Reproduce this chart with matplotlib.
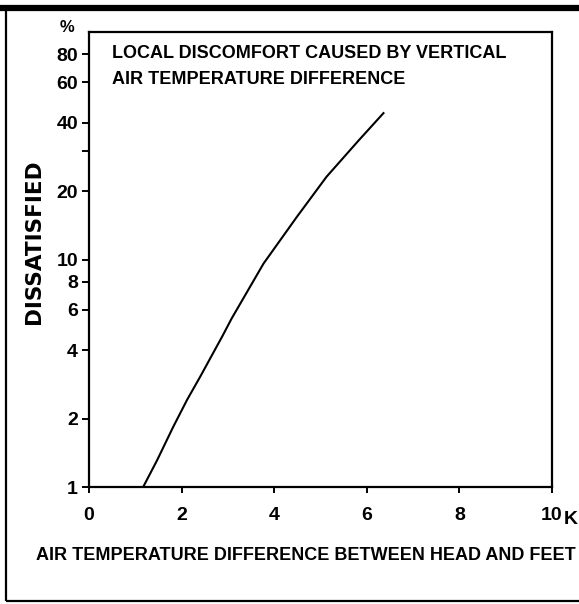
import matplotlib
matplotlib.use("Agg")
import matplotlib.pyplot as plt
from matplotlib.patches import Rectangle
from matplotlib.lines import Line2D

# Fuentes
narrow = ['Liberation Sans', 'DejaVu Sans']
wide = ['DejaVu Sans']

# Curva leida: diferencia de temperatura (K) vs % insatisfechos
delta_t = [1.17, 1.47, 1.82, 2.12, 2.40, 2.88, 3.08, 3.77, 4.49, 5.13, 5.82, 6.36]
dissatisfied = [1.0, 1.31, 1.84, 2.42, 3.05, 4.6, 5.5, 9.6, 15.4, 23.1, 33.3, 44.0]

x_ticks = [0, 2, 4, 6, 8, 10]
y_ticks = [1, 2, 4, 6, 8, 10, 20, 30, 40, 60, 80]
y_labels = ['1', '2', '4', '6', '8', '10', '20', '', '40', '60', '80']

title_lines = ["LOCAL DISCOMFORT CAUSED BY VERTICAL", "AIR TEMPERATURE DIFFERENCE"]

fig = plt.figure(figsize=(5.79, 6.04), dpi=100)
ax = fig.add_axes([89/579, 1 - 487/604, (552 - 89)/579, (487 - 32)/604])

ax.plot(delta_t, dissatisfied, color='black', lw=1.5, solid_joinstyle='round')

ax.set_yscale('log')
ax.set_xlim(0, 10)
ax.set_ylim(1, 100)
ax.set_xticks(x_ticks)
ax.set_xticklabels([str(v) for v in x_ticks])
ax.set_yticks(y_ticks)
ax.set_yticklabels(y_labels)
ax.minorticks_off()

for s in ax.spines.values():
    s.set_linewidth(1.6)

ax.tick_params(axis='x', direction='out', length=4.5, width=1.4, pad=10)
ax.tick_params(axis='y', direction='out', length=5, width=1.4, pad=3)
for lab in ax.get_xticklabels() + ax.get_yticklabels():
    lab.set_fontfamily(narrow)
    lab.set_fontweight('bold')
    lab.set_fontsize(14)

# Titulo dentro del grafico
ax.text(112/579, 1 - 53/604, title_lines[0], transform=fig.transFigure,
        family=narrow, fontweight='bold', fontsize=13, va='center', ha='left')
ax.text(112/579, 1 - 79/604, title_lines[1], transform=fig.transFigure,
        family=narrow, fontweight='bold', fontsize=13, va='center', ha='left')

fig.text(67/579, 1 - 27/604, '%', family=narrow, fontweight='bold', fontsize=12,
         ha='center', va='center')
fig.text(571/579, 1 - 520/604, 'K', family=narrow, fontweight='bold', fontsize=14,
         ha='center', va='center')

fig.text(34/579, 1 - 242/604, 'DISSATISFIED', family=wide, fontweight='bold',
         fontsize=15.5, rotation=90, ha='center', va='center')
fig.text(306/579, 1 - 556/604, 'AIR TEMPERATURE DIFFERENCE BETWEEN HEAD AND FEET',
         family=narrow, fontweight='bold', fontsize=13, ha='center', va='center')

# Marco exterior
fig.add_artist(Rectangle((6/579, 1 - 601/604), 580/579, (601 - 8)/604,
                         transform=fig.transFigure, fill=False, lw=1.6, ec='black'))
fig.add_artist(Line2D([0, 1], [1 - 8/604, 1 - 8/604], transform=fig.transFigure,
                      color='black', lw=4.5))

plt.savefig("out.png", dpi=100)
